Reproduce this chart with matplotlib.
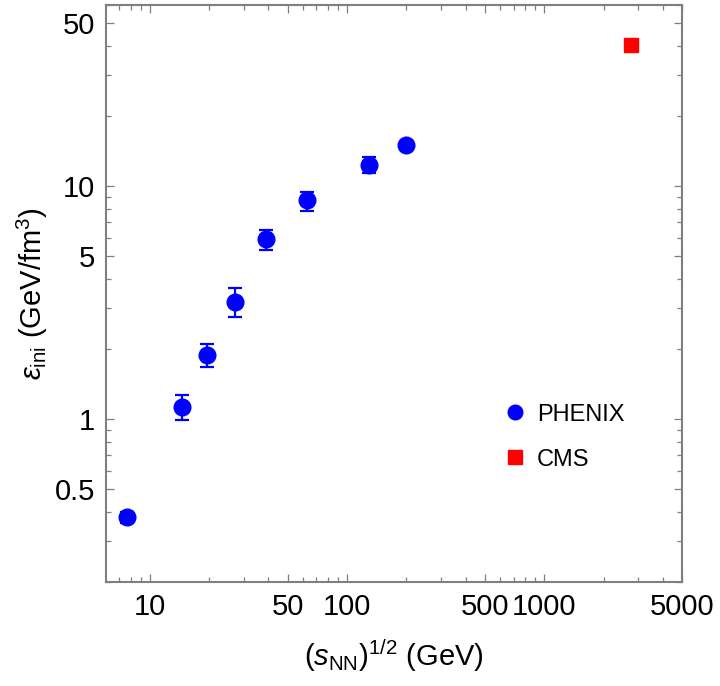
import matplotlib
matplotlib.use("Agg")
import matplotlib.pyplot as plt
from matplotlib.ticker import FixedLocator, NullFormatter, FixedFormatter
import numpy as np

# ---- data ----
phenix_x = [7.7, 14.5, 19.6, 27.0, 39.0, 62.4, 130.0, 200.0]
phenix_y = [0.38, 1.13, 1.88, 3.20, 5.92, 8.71, 12.34, 15.04]
phenix_err_lo = [0.02, 0.14, 0.20, 0.45, 0.61, 0.88, 0.89, 0.50]
phenix_err_hi = [0.02, 0.14, 0.22, 0.45, 0.57, 0.75, 1.02, 0.50]
cms_x = [2760.0]
cms_y = [40.3]

x_major = [10, 50, 100, 500, 1000, 5000]
x_major_labels = ["10", "50", "100", "500", "1000", "5000"]
x_minor = [7, 8, 9, 20, 30, 40, 60, 70, 80, 90, 200, 300, 400, 600, 700, 800, 900,
           2000, 3000, 4000]
y_major = [0.5, 1, 5, 10, 50]
y_major_labels = ["0.5", "1", "5", "10", "50"]
y_minor = [0.2, 0.3, 0.4, 0.6, 0.7, 0.8, 0.9, 2, 3, 4, 6, 7, 8, 9, 20, 30, 40, 60]

plt.rcParams['font.family'] = ['Liberation Sans', 'DejaVu Sans']
plt.rcParams['mathtext.fontset'] = 'custom'
plt.rcParams['mathtext.rm'] = 'Liberation Sans'
plt.rcParams['mathtext.it'] = 'Liberation Sans:italic'
plt.rcParams['mathtext.bf'] = 'Liberation Sans:bold'

FS = 21
LFS = 17
frame_col = '#7f7f7f'

fig = plt.figure(figsize=(7.2, 6.86), dpi=100)
ax = fig.add_axes([106/720, 1-582/686, 576/720, 577/686])

ax.errorbar(phenix_x, phenix_y, yerr=[phenix_err_lo, phenix_err_hi], fmt='o',
            color='#0000ff', ms=12, elinewidth=1.6, capsize=5, capthick=1.6,
            zorder=3)
h_cms, = ax.plot(cms_x, cms_y, 's', color='#ff0000', ms=10.5, label='CMS', zorder=3)
h_ph, = ax.plot([], [], 'o', color='#0000ff', ms=10.5, label='PHENIX')

ax.set_xscale('log')
ax.set_yscale('log')
ax.set_xlim(6, 5000)
ax.set_ylim(0.2, 60)

ax.xaxis.set_major_locator(FixedLocator(x_major))
ax.xaxis.set_major_formatter(FixedFormatter(x_major_labels))
ax.xaxis.set_minor_locator(FixedLocator(x_minor))
ax.xaxis.set_minor_formatter(NullFormatter())
ax.yaxis.set_major_locator(FixedLocator(y_major))
ax.yaxis.set_major_formatter(FixedFormatter(y_major_labels))
ax.yaxis.set_minor_locator(FixedLocator(y_minor))
ax.yaxis.set_minor_formatter(NullFormatter())

ax.tick_params(which='both', direction='in', top=True, right=True, color=frame_col,
               labelsize=FS, labelcolor='black')
ax.tick_params(which='major', length=5.5, width=0.9, pad=8)
ax.tick_params(which='minor', length=3.5, width=0.9)
for s in ax.spines.values():
    s.set_color(frame_col)
    s.set_linewidth(1.5)

ax.set_xlabel(r'$(\mathit{s}_{\mathrm{NN}})^{1/2}$ (GeV)', fontsize=FS, labelpad=12)
ax.set_ylabel(r'$\mathit{ε}_{\mathrm{ini}}$ (GeV/fm$^{3}$)', fontsize=FS, labelpad=3)

leg = ax.legend(handles=[h_ph, h_cms], loc='upper left', bbox_to_anchor=(0.693, 0.309),
                frameon=False, fontsize=LFS, handlelength=0.8, handletextpad=0.55,
                labelspacing=0.97, borderpad=0, borderaxespad=0, numpoints=1)

fig.savefig('out.png', dpi=100)
